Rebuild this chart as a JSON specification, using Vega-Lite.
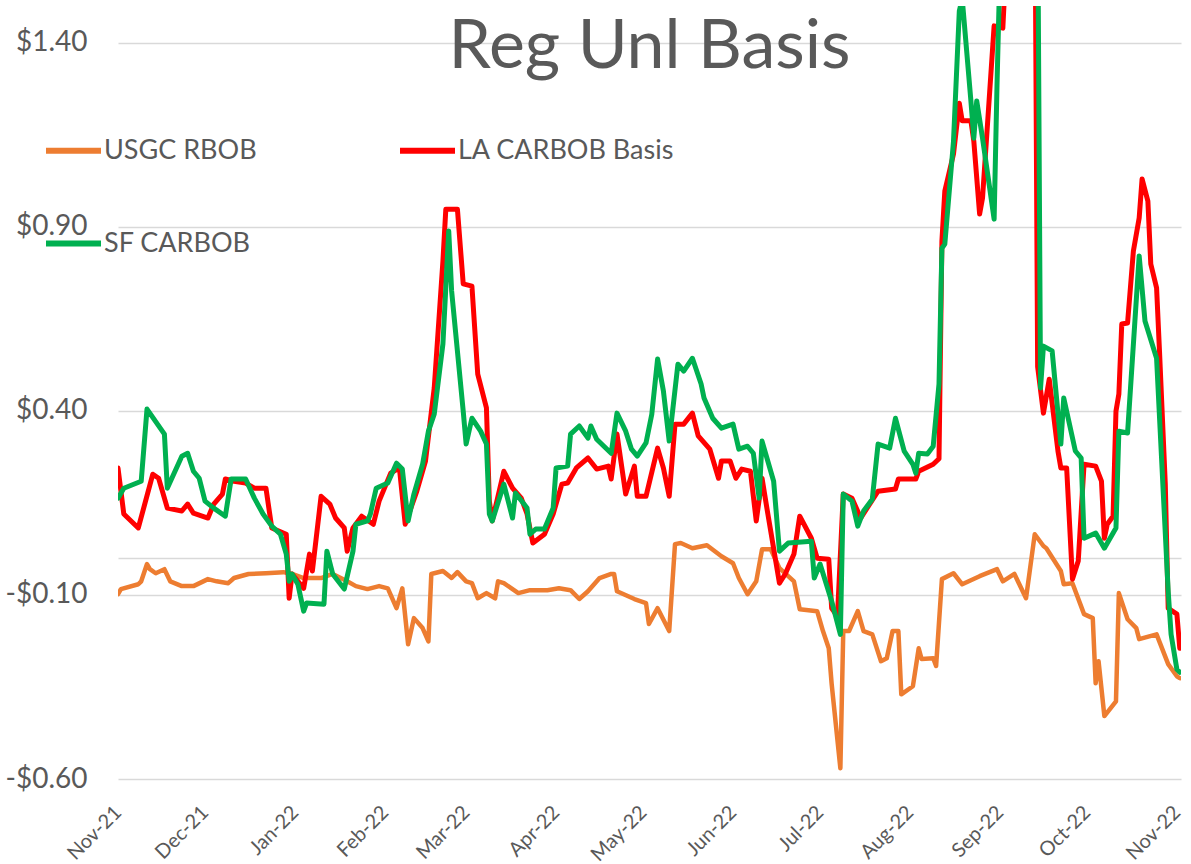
{
  "$schema": "https://vega.github.io/schema/vega-lite/v6.json",
  "width": 1063,
  "height": 773,
  "autosize": "none",
  "padding": {"left": 118, "top": 6, "right": 10, "bottom": 85},
  "background": "white",
  "config": {"view": {"stroke": null}, "font": "Lato"},
  "title": {"text": "Reg Unl Basis", "fontSize": 68, "font": "Lato", "fontWeight": "normal", "color": "#595959", "anchor": "middle", "baseline": "alphabetic", "offset": 0, "dy": 130},
  "encoding": {
    "x": {
      "field": "d", "type": "temporal",
      "scale": {"type": "utc", "domain": [{"year": 2021, "month": 11, "date": 1, "utc": true}, {"year": 2022, "month": 11, "date": 2, "hours": 10, "utc": true}]},
      "axis": {
        "title": null, "domain": false, "ticks": false, "grid": false,
        "format": "%b-%y", "labelAngle": -45, "labelAlign": "right", "labelBaseline": "middle",
        "labelFontSize": 20, "labelColor": "#595959", "labelFont": "Lato", "labelPadding": 30, "labelFlush": false, "labelOverlap": false,
        "values": [
          {"year": 2021, "month": 11, "date": 1, "utc": true}, {"year": 2021, "month": 12, "date": 1, "utc": true},
          {"year": 2022, "month": 1, "date": 1, "utc": true}, {"year": 2022, "month": 2, "date": 1, "utc": true},
          {"year": 2022, "month": 3, "date": 1, "utc": true}, {"year": 2022, "month": 4, "date": 1, "utc": true},
          {"year": 2022, "month": 5, "date": 1, "utc": true}, {"year": 2022, "month": 6, "date": 1, "utc": true},
          {"year": 2022, "month": 7, "date": 1, "utc": true}, {"year": 2022, "month": 8, "date": 1, "utc": true},
          {"year": 2022, "month": 9, "date": 1, "utc": true}, {"year": 2022, "month": 10, "date": 1, "utc": true},
          {"year": 2022, "month": 11, "date": 1, "utc": true}
        ]
      }
    },
    "y": {
      "field": "v", "type": "quantitative",
      "scale": {"domain": [-0.6, 1.5], "nice": false, "zero": false},
      "axis": {
        "title": null, "domain": false, "ticks": false, "grid": true, "gridColor": "#d9d9d9", "gridWidth": 1.5,
        "values": [-0.6, -0.1, 0, 0.4, 0.9, 1.4],
        "labelExpr": "datum.value == 0 ? '' : (datum.value < 0 ? '-$' + format(-datum.value, '.2f') : '$' + format(datum.value, '.2f'))",
        "labelFontSize": 28, "labelColor": "#595959", "labelFont": "Lato", "labelPadding": 31
      }
    }
  },
  "layer": [
    {
      "data": {"values": [
        {"d": "2021-11-01"}, {"d": "2021-12-01"}, {"d": "2022-01-01"}, {"d": "2022-02-01"}, {"d": "2022-03-01"},
        {"d": "2022-04-01"}, {"d": "2022-05-01"}, {"d": "2022-06-01"}, {"d": "2022-07-01"}, {"d": "2022-08-01"},
        {"d": "2022-09-01"}, {"d": "2022-10-01"}, {"d": "2022-11-01"}
      ]},
      "mark": {"type": "rule", "color": "#d9d9d9", "strokeWidth": 1.5},
      "encoding": {"y": {"datum": 0}, "y2": {"datum": -0.017}}
    },
    {
      "data": {"values": [
        {"d":"2021-11-01","v":-0.098},{"d":"2021-11-02","v":-0.084},{"d":"2021-11-08","v":-0.071},{"d":"2021-11-09","v":-0.063},
        {"d":"2021-11-11","v":-0.016},{"d":"2021-11-12","v":-0.030},{"d":"2021-11-14","v":-0.041},{"d":"2021-11-17","v":-0.030},
        {"d":"2021-11-19","v":-0.063},{"d":"2021-11-23","v":-0.076},{"d":"2021-11-27","v":-0.076},{"d":"2021-12-02","v":-0.057},
        {"d":"2021-12-05","v":-0.063},{"d":"2021-12-09","v":-0.068},{"d":"2021-12-11","v":-0.054},{"d":"2021-12-16","v":-0.043},
        {"d":"2021-12-22","v":-0.041},{"d":"2021-12-28","v":-0.038},{"d":"2021-12-31","v":-0.043},{"d":"2022-01-04","v":-0.054},
        {"d":"2022-01-10","v":-0.054},{"d":"2022-01-14","v":-0.043},{"d":"2022-01-19","v":-0.063},{"d":"2022-01-22","v":-0.076},
        {"d":"2022-01-26","v":-0.084},{"d":"2022-01-30","v":-0.076},{"d":"2022-02-02","v":-0.082},{"d":"2022-02-05","v":-0.136},
        {"d":"2022-02-07","v":-0.082},{"d":"2022-02-09","v":-0.234},{"d":"2022-02-11","v":-0.163},{"d":"2022-02-14","v":-0.190},
        {"d":"2022-02-16","v":-0.226},{"d":"2022-02-17","v":-0.043},{"d":"2022-02-21","v":-0.035},{"d":"2022-02-24","v":-0.054},
        {"d":"2022-02-26","v":-0.038},{"d":"2022-03-01","v":-0.063},{"d":"2022-03-03","v":-0.068},{"d":"2022-03-05","v":-0.109},
        {"d":"2022-03-08","v":-0.095},{"d":"2022-03-11","v":-0.109},{"d":"2022-03-12","v":-0.063},{"d":"2022-03-14","v":-0.068},
        {"d":"2022-03-19","v":-0.095},{"d":"2022-03-23","v":-0.087},{"d":"2022-03-29","v":-0.087},{"d":"2022-04-02","v":-0.082},
        {"d":"2022-04-06","v":-0.087},{"d":"2022-04-09","v":-0.111},{"d":"2022-04-12","v":-0.090},{"d":"2022-04-16","v":-0.054},
        {"d":"2022-04-20","v":-0.043},{"d":"2022-04-21","v":-0.043},{"d":"2022-04-22","v":-0.090},{"d":"2022-04-28","v":-0.111},
        {"d":"2022-05-02","v":-0.122},{"d":"2022-05-03","v":-0.179},{"d":"2022-05-06","v":-0.136},{"d":"2022-05-10","v":-0.198},
        {"d":"2022-05-12","v":0.038},{"d":"2022-05-14","v":0.041},{"d":"2022-05-18","v":0.027},{"d":"2022-05-23","v":0.035},
        {"d":"2022-05-28","v":0.005},{"d":"2022-06-01","v":-0.014},{"d":"2022-06-03","v":-0.054},{"d":"2022-06-06","v":-0.098},
        {"d":"2022-06-09","v":-0.063},{"d":"2022-06-11","v":0.024},{"d":"2022-06-14","v":0.024},{"d":"2022-06-17","v":-0.027},
        {"d":"2022-06-22","v":-0.063},{"d":"2022-06-24","v":-0.139},{"d":"2022-06-30","v":-0.144},{"d":"2022-07-02","v":-0.198},
        {"d":"2022-07-04","v":-0.245},{"d":"2022-07-05","v":-0.342},{"d":"2022-07-08","v":-0.571},{"d":"2022-07-09","v":-0.198},
        {"d":"2022-07-11","v":-0.198},{"d":"2022-07-14","v":-0.144},{"d":"2022-07-16","v":-0.198},{"d":"2022-07-19","v":-0.207},
        {"d":"2022-07-22","v":-0.280},{"d":"2022-07-24","v":-0.272},{"d":"2022-07-26","v":-0.198},{"d":"2022-07-28","v":-0.198},
        {"d":"2022-07-29","v":-0.370},{"d":"2022-08-02","v":-0.348},{"d":"2022-08-04","v":-0.245},{"d":"2022-08-05","v":-0.274},
        {"d":"2022-08-09","v":-0.272},{"d":"2022-08-10","v":-0.293},{"d":"2022-08-12","v":-0.057},{"d":"2022-08-16","v":-0.041},
        {"d":"2022-08-19","v":-0.071},{"d":"2022-08-25","v":-0.049},{"d":"2022-08-31","v":-0.030},{"d":"2022-09-02","v":-0.063},
        {"d":"2022-09-06","v":-0.043},{"d":"2022-09-10","v":-0.109},{"d":"2022-09-13","v":0.065},{"d":"2022-09-16","v":0.033},
        {"d":"2022-09-17","v":0.027},{"d":"2022-09-22","v":-0.035},{"d":"2022-09-23","v":-0.071},{"d":"2022-09-26","v":-0.068},
        {"d":"2022-09-30","v":-0.152},{"d":"2022-10-03","v":-0.163},{"d":"2022-10-04","v":-0.340},{"d":"2022-10-05","v":-0.280},
        {"d":"2022-10-07","v":-0.429},{"d":"2022-10-11","v":-0.389},{"d":"2022-10-12","v":-0.095},{"d":"2022-10-15","v":-0.166},
        {"d":"2022-10-18","v":-0.190},{"d":"2022-10-19","v":-0.220},{"d":"2022-10-25","v":-0.207},{"d":"2022-10-29","v":-0.288},
        {"d":"2022-11-01","v":-0.321},{"d":"2022-11-02","v":-0.326}
      ]},
      "mark": {"type": "line", "clip": true, "strokeWidth": 4.5, "strokeJoin": "round", "strokeCap": "round"},
      "encoding": {
        "color": {
          "datum": "USGC RBOB",
          "scale": {"domain": ["USGC RBOB", "LA CARBOB Basis", "SF CARBOB"], "range": ["#ED7D31", "#FF0000", "#00B050"]},
          "legend": {
            "orient": "none", "legendX": -75, "legendY": 114, "direction": "horizontal", "columns": 2,
            "title": null, "symbolType": "stroke", "symbolSize": 3025, "symbolStrokeWidth": 6,
            "labelFontSize": 27, "labelColor": "#595959", "labelFont": "Lato", "labelOffset": 0,
            "columnPadding": 131, "rowPadding": 49, "labelLimit": 400, "padding": 0
          }
        }
      }
    },
    {
      "data": {"values": [
        {"d":"2021-11-01","v":0.245},{"d":"2021-11-03","v":0.120},{"d":"2021-11-08","v":0.082},{"d":"2021-11-13","v":0.228},
        {"d":"2021-11-15","v":0.217},{"d":"2021-11-18","v":0.136},{"d":"2021-11-23","v":0.128},{"d":"2021-11-25","v":0.147},
        {"d":"2021-11-27","v":0.122},{"d":"2021-12-02","v":0.109},{"d":"2021-12-04","v":0.147},{"d":"2021-12-07","v":0.174},
        {"d":"2021-12-08","v":0.215},{"d":"2021-12-11","v":0.209},{"d":"2021-12-15","v":0.204},{"d":"2021-12-18","v":0.190},
        {"d":"2021-12-22","v":0.190},{"d":"2021-12-24","v":0.082},{"d":"2021-12-29","v":0.065},{"d":"2021-12-30","v":-0.109},
        {"d":"2021-12-31","v":-0.043},{"d":"2022-01-04","v":-0.082},{"d":"2022-01-06","v":0.011},{"d":"2022-01-07","v":-0.035},
        {"d":"2022-01-10","v":0.168},{"d":"2022-01-13","v":0.147},{"d":"2022-01-15","v":0.109},{"d":"2022-01-18","v":0.082},
        {"d":"2022-01-19","v":0.019},{"d":"2022-01-21","v":0.082},{"d":"2022-01-24","v":0.114},{"d":"2022-01-28","v":0.092},
        {"d":"2022-01-30","v":0.155},{"d":"2022-02-03","v":0.231},{"d":"2022-02-06","v":0.245},{"d":"2022-02-08","v":0.092},
        {"d":"2022-02-12","v":0.182},{"d":"2022-02-15","v":0.264},{"d":"2022-02-18","v":0.462},{"d":"2022-02-21","v":0.807},
        {"d":"2022-02-22","v":0.948},{"d":"2022-02-26","v":0.948},{"d":"2022-02-28","v":0.745},{"d":"2022-03-03","v":0.739},
        {"d":"2022-03-05","v":0.500},{"d":"2022-03-08","v":0.408},{"d":"2022-03-09","v":0.155},{"d":"2022-03-10","v":0.101},
        {"d":"2022-03-14","v":0.236},{"d":"2022-03-17","v":0.190},{"d":"2022-03-20","v":0.163},{"d":"2022-03-22","v":0.120},
        {"d":"2022-03-24","v":0.041},{"d":"2022-03-28","v":0.065},{"d":"2022-03-31","v":0.120},{"d":"2022-04-03","v":0.201},
        {"d":"2022-04-05","v":0.204},{"d":"2022-04-08","v":0.245},{"d":"2022-04-12","v":0.272},{"d":"2022-04-15","v":0.242},
        {"d":"2022-04-19","v":0.250},{"d":"2022-04-20","v":0.215},{"d":"2022-04-22","v":0.337},{"d":"2022-04-25","v":0.174},
        {"d":"2022-04-28","v":0.250},{"d":"2022-04-29","v":0.168},{"d":"2022-05-02","v":0.168},{"d":"2022-05-06","v":0.299},
        {"d":"2022-05-08","v":0.245},{"d":"2022-05-10","v":0.168},{"d":"2022-05-12","v":0.364},{"d":"2022-05-15","v":0.364},
        {"d":"2022-05-18","v":0.394},{"d":"2022-05-20","v":0.332},{"d":"2022-05-24","v":0.296},{"d":"2022-05-27","v":0.217},
        {"d":"2022-05-28","v":0.264},{"d":"2022-05-31","v":0.264},{"d":"2022-06-02","v":0.217},{"d":"2022-06-04","v":0.242},
        {"d":"2022-06-07","v":0.236},{"d":"2022-06-09","v":0.101},{"d":"2022-06-11","v":0.217},{"d":"2022-06-13","v":0.120},
        {"d":"2022-06-17","v":-0.068},{"d":"2022-06-19","v":-0.043},{"d":"2022-06-22","v":0.011},{"d":"2022-06-24","v":0.114},
        {"d":"2022-06-28","v":0.054},{"d":"2022-06-30","v":0.000},{"d":"2022-07-04","v":-0.003},{"d":"2022-07-05","v":-0.136},
        {"d":"2022-07-07","v":-0.158},{"d":"2022-07-09","v":0.174},{"d":"2022-07-12","v":0.163},{"d":"2022-07-15","v":0.109},
        {"d":"2022-07-21","v":0.182},{"d":"2022-07-27","v":0.188},{"d":"2022-07-28","v":0.215},{"d":"2022-08-03","v":0.215},
        {"d":"2022-08-04","v":0.236},{"d":"2022-08-09","v":0.255},{"d":"2022-08-11","v":0.270},{"d":"2022-08-12","v":0.861},
        {"d":"2022-08-13","v":0.997},{"d":"2022-08-16","v":1.098},{"d":"2022-08-18","v":1.236},{"d":"2022-08-19","v":1.188},
        {"d":"2022-08-22","v":1.188},{"d":"2022-08-23","v":1.133},{"d":"2022-08-25","v":0.935},{"d":"2022-08-26","v":0.978},
        {"d":"2022-08-30","v":1.446},{"d":"2022-09-02","v":1.440},{"d":"2022-09-03","v":1.6},{"d":"2022-09-07","v":1.9},
        {"d":"2022-09-11","v":2.0},{"d":"2022-09-13","v":1.9},{"d":"2022-09-14","v":0.520},{"d":"2022-09-16","v":0.394},
        {"d":"2022-09-18","v":0.486},{"d":"2022-09-21","v":0.291},{"d":"2022-09-22","v":0.245},{"d":"2022-09-24","v":0.245},
        {"d":"2022-09-26","v":-0.057},{"d":"2022-09-28","v":-0.008},{"d":"2022-09-30","v":0.255},{"d":"2022-10-04","v":0.250},
        {"d":"2022-10-06","v":0.209},{"d":"2022-10-07","v":0.054},{"d":"2022-10-08","v":0.092},{"d":"2022-10-10","v":0.114},
        {"d":"2022-10-11","v":0.399},{"d":"2022-10-12","v":0.446},{"d":"2022-10-13","v":0.636},{"d":"2022-10-15","v":0.639},
        {"d":"2022-10-17","v":0.834},{"d":"2022-10-19","v":0.924},{"d":"2022-10-20","v":1.030},{"d":"2022-10-22","v":0.970},
        {"d":"2022-10-23","v":0.799},{"d":"2022-10-25","v":0.734},{"d":"2022-10-26","v":0.563},{"d":"2022-10-28","v":0.201},
        {"d":"2022-10-29","v":-0.136},{"d":"2022-11-01","v":-0.152},{"d":"2022-11-02","v":-0.245}
      ]},
      "mark": {"type": "line", "clip": true, "strokeWidth": 5, "strokeJoin": "round", "strokeCap": "round"},
      "encoding": {"color": {"datum": "LA CARBOB Basis"}}
    },
    {
      "data": {"values": [
        {"d":"2021-11-01","v":0.163},{"d":"2021-11-03","v":0.190},{"d":"2021-11-09","v":0.209},{"d":"2021-11-11","v":0.405},
        {"d":"2021-11-17","v":0.337},{"d":"2021-11-18","v":0.190},{"d":"2021-11-23","v":0.277},{"d":"2021-11-25","v":0.285},
        {"d":"2021-11-27","v":0.236},{"d":"2021-11-29","v":0.217},{"d":"2021-12-01","v":0.155},{"d":"2021-12-04","v":0.136},
        {"d":"2021-12-08","v":0.114},{"d":"2021-12-10","v":0.215},{"d":"2021-12-15","v":0.215},{"d":"2021-12-18","v":0.163},
        {"d":"2021-12-21","v":0.120},{"d":"2021-12-24","v":0.087},{"d":"2021-12-27","v":0.065},{"d":"2021-12-29","v":0.011},
        {"d":"2021-12-30","v":-0.063},{"d":"2021-12-31","v":-0.043},{"d":"2022-01-02","v":-0.071},{"d":"2022-01-04","v":-0.144},
        {"d":"2022-01-05","v":-0.122},{"d":"2022-01-11","v":-0.125},{"d":"2022-01-12","v":0.019},{"d":"2022-01-14","v":-0.043},
        {"d":"2022-01-18","v":-0.084},{"d":"2022-01-21","v":0.019},{"d":"2022-01-22","v":0.092},{"d":"2022-01-26","v":0.101},
        {"d":"2022-01-27","v":0.120},{"d":"2022-01-29","v":0.190},{"d":"2022-02-02","v":0.204},{"d":"2022-02-05","v":0.258},
        {"d":"2022-02-07","v":0.242},{"d":"2022-02-09","v":0.101},{"d":"2022-02-11","v":0.174},{"d":"2022-02-14","v":0.255},
        {"d":"2022-02-16","v":0.345},{"d":"2022-02-18","v":0.391},{"d":"2022-02-21","v":0.582},{"d":"2022-02-23","v":0.889},
        {"d":"2022-02-24","v":0.726},{"d":"2022-02-28","v":0.399},{"d":"2022-03-01","v":0.310},{"d":"2022-03-03","v":0.380},
        {"d":"2022-03-06","v":0.345},{"d":"2022-03-08","v":0.310},{"d":"2022-03-09","v":0.120},{"d":"2022-03-10","v":0.101},
        {"d":"2022-03-14","v":0.201},{"d":"2022-03-17","v":0.109},{"d":"2022-03-18","v":0.177},{"d":"2022-03-22","v":0.136},
        {"d":"2022-03-23","v":0.065},{"d":"2022-03-25","v":0.079},{"d":"2022-03-28","v":0.079},{"d":"2022-03-31","v":0.136},
        {"d":"2022-04-01","v":0.245},{"d":"2022-04-05","v":0.250},{"d":"2022-04-06","v":0.337},{"d":"2022-04-09","v":0.359},
        {"d":"2022-04-12","v":0.326},{"d":"2022-04-13","v":0.359},{"d":"2022-04-15","v":0.323},{"d":"2022-04-20","v":0.285},
        {"d":"2022-04-22","v":0.394},{"d":"2022-04-25","v":0.345},{"d":"2022-04-27","v":0.296},{"d":"2022-04-29","v":0.277},
        {"d":"2022-05-02","v":0.313},{"d":"2022-05-04","v":0.391},{"d":"2022-05-06","v":0.541},{"d":"2022-05-08","v":0.454},
        {"d":"2022-05-10","v":0.318},{"d":"2022-05-13","v":0.527},{"d":"2022-05-15","v":0.508},{"d":"2022-05-18","v":0.543},
        {"d":"2022-05-21","v":0.473},{"d":"2022-05-22","v":0.435},{"d":"2022-05-25","v":0.380},{"d":"2022-05-28","v":0.353},
        {"d":"2022-06-01","v":0.364},{"d":"2022-06-03","v":0.296},{"d":"2022-06-06","v":0.304},{"d":"2022-06-08","v":0.285},
        {"d":"2022-06-10","v":0.163},{"d":"2022-06-11","v":0.318},{"d":"2022-06-15","v":0.209},{"d":"2022-06-17","v":0.019},
        {"d":"2022-06-20","v":0.041},{"d":"2022-06-28","v":0.046},{"d":"2022-06-29","v":-0.054},{"d":"2022-07-01","v":-0.016},
        {"d":"2022-07-05","v":-0.117},{"d":"2022-07-08","v":-0.207},{"d":"2022-07-09","v":0.174},{"d":"2022-07-12","v":0.155},
        {"d":"2022-07-14","v":0.087},{"d":"2022-07-16","v":0.128},{"d":"2022-07-19","v":0.160},{"d":"2022-07-21","v":0.310},
        {"d":"2022-07-25","v":0.299},{"d":"2022-07-27","v":0.380},{"d":"2022-07-30","v":0.291},{"d":"2022-08-02","v":0.255},
        {"d":"2022-08-03","v":0.231},{"d":"2022-08-04","v":0.285},{"d":"2022-08-07","v":0.283},{"d":"2022-08-09","v":0.304},
        {"d":"2022-08-11","v":0.473},{"d":"2022-08-12","v":0.842},{"d":"2022-08-13","v":0.853},{"d":"2022-08-16","v":1.133},
        {"d":"2022-08-18","v":1.486},{"d":"2022-08-19","v":1.52},{"d":"2022-08-22","v":1.242},{"d":"2022-08-23","v":1.141},
        {"d":"2022-08-24","v":1.242},{"d":"2022-08-26","v":1.141},{"d":"2022-08-30","v":0.921},{"d":"2022-08-31","v":1.288},
        {"d":"2022-09-01","v":1.6},{"d":"2022-09-05","v":2.0},{"d":"2022-09-09","v":2.2},{"d":"2022-09-12","v":2.0},
        {"d":"2022-09-14","v":1.8},{"d":"2022-09-15","v":0.462},{"d":"2022-09-16","v":0.576},{"d":"2022-09-19","v":0.563},
        {"d":"2022-09-22","v":0.310},{"d":"2022-09-23","v":0.435},{"d":"2022-09-27","v":0.291},{"d":"2022-09-29","v":0.272},
        {"d":"2022-09-30","v":0.054},{"d":"2022-10-04","v":0.068},{"d":"2022-10-07","v":0.027},{"d":"2022-10-11","v":0.082},
        {"d":"2022-10-12","v":0.345},{"d":"2022-10-15","v":0.340},{"d":"2022-10-19","v":0.821},{"d":"2022-10-21","v":0.644},
        {"d":"2022-10-25","v":0.543},{"d":"2022-10-29","v":-0.090},{"d":"2022-10-30","v":-0.207},{"d":"2022-11-01","v":-0.302},
        {"d":"2022-11-02","v":-0.310}
      ]},
      "mark": {"type": "line", "clip": true, "strokeWidth": 5, "strokeJoin": "round", "strokeCap": "round"},
      "encoding": {"color": {"datum": "SF CARBOB"}}
    }
  ]
}
